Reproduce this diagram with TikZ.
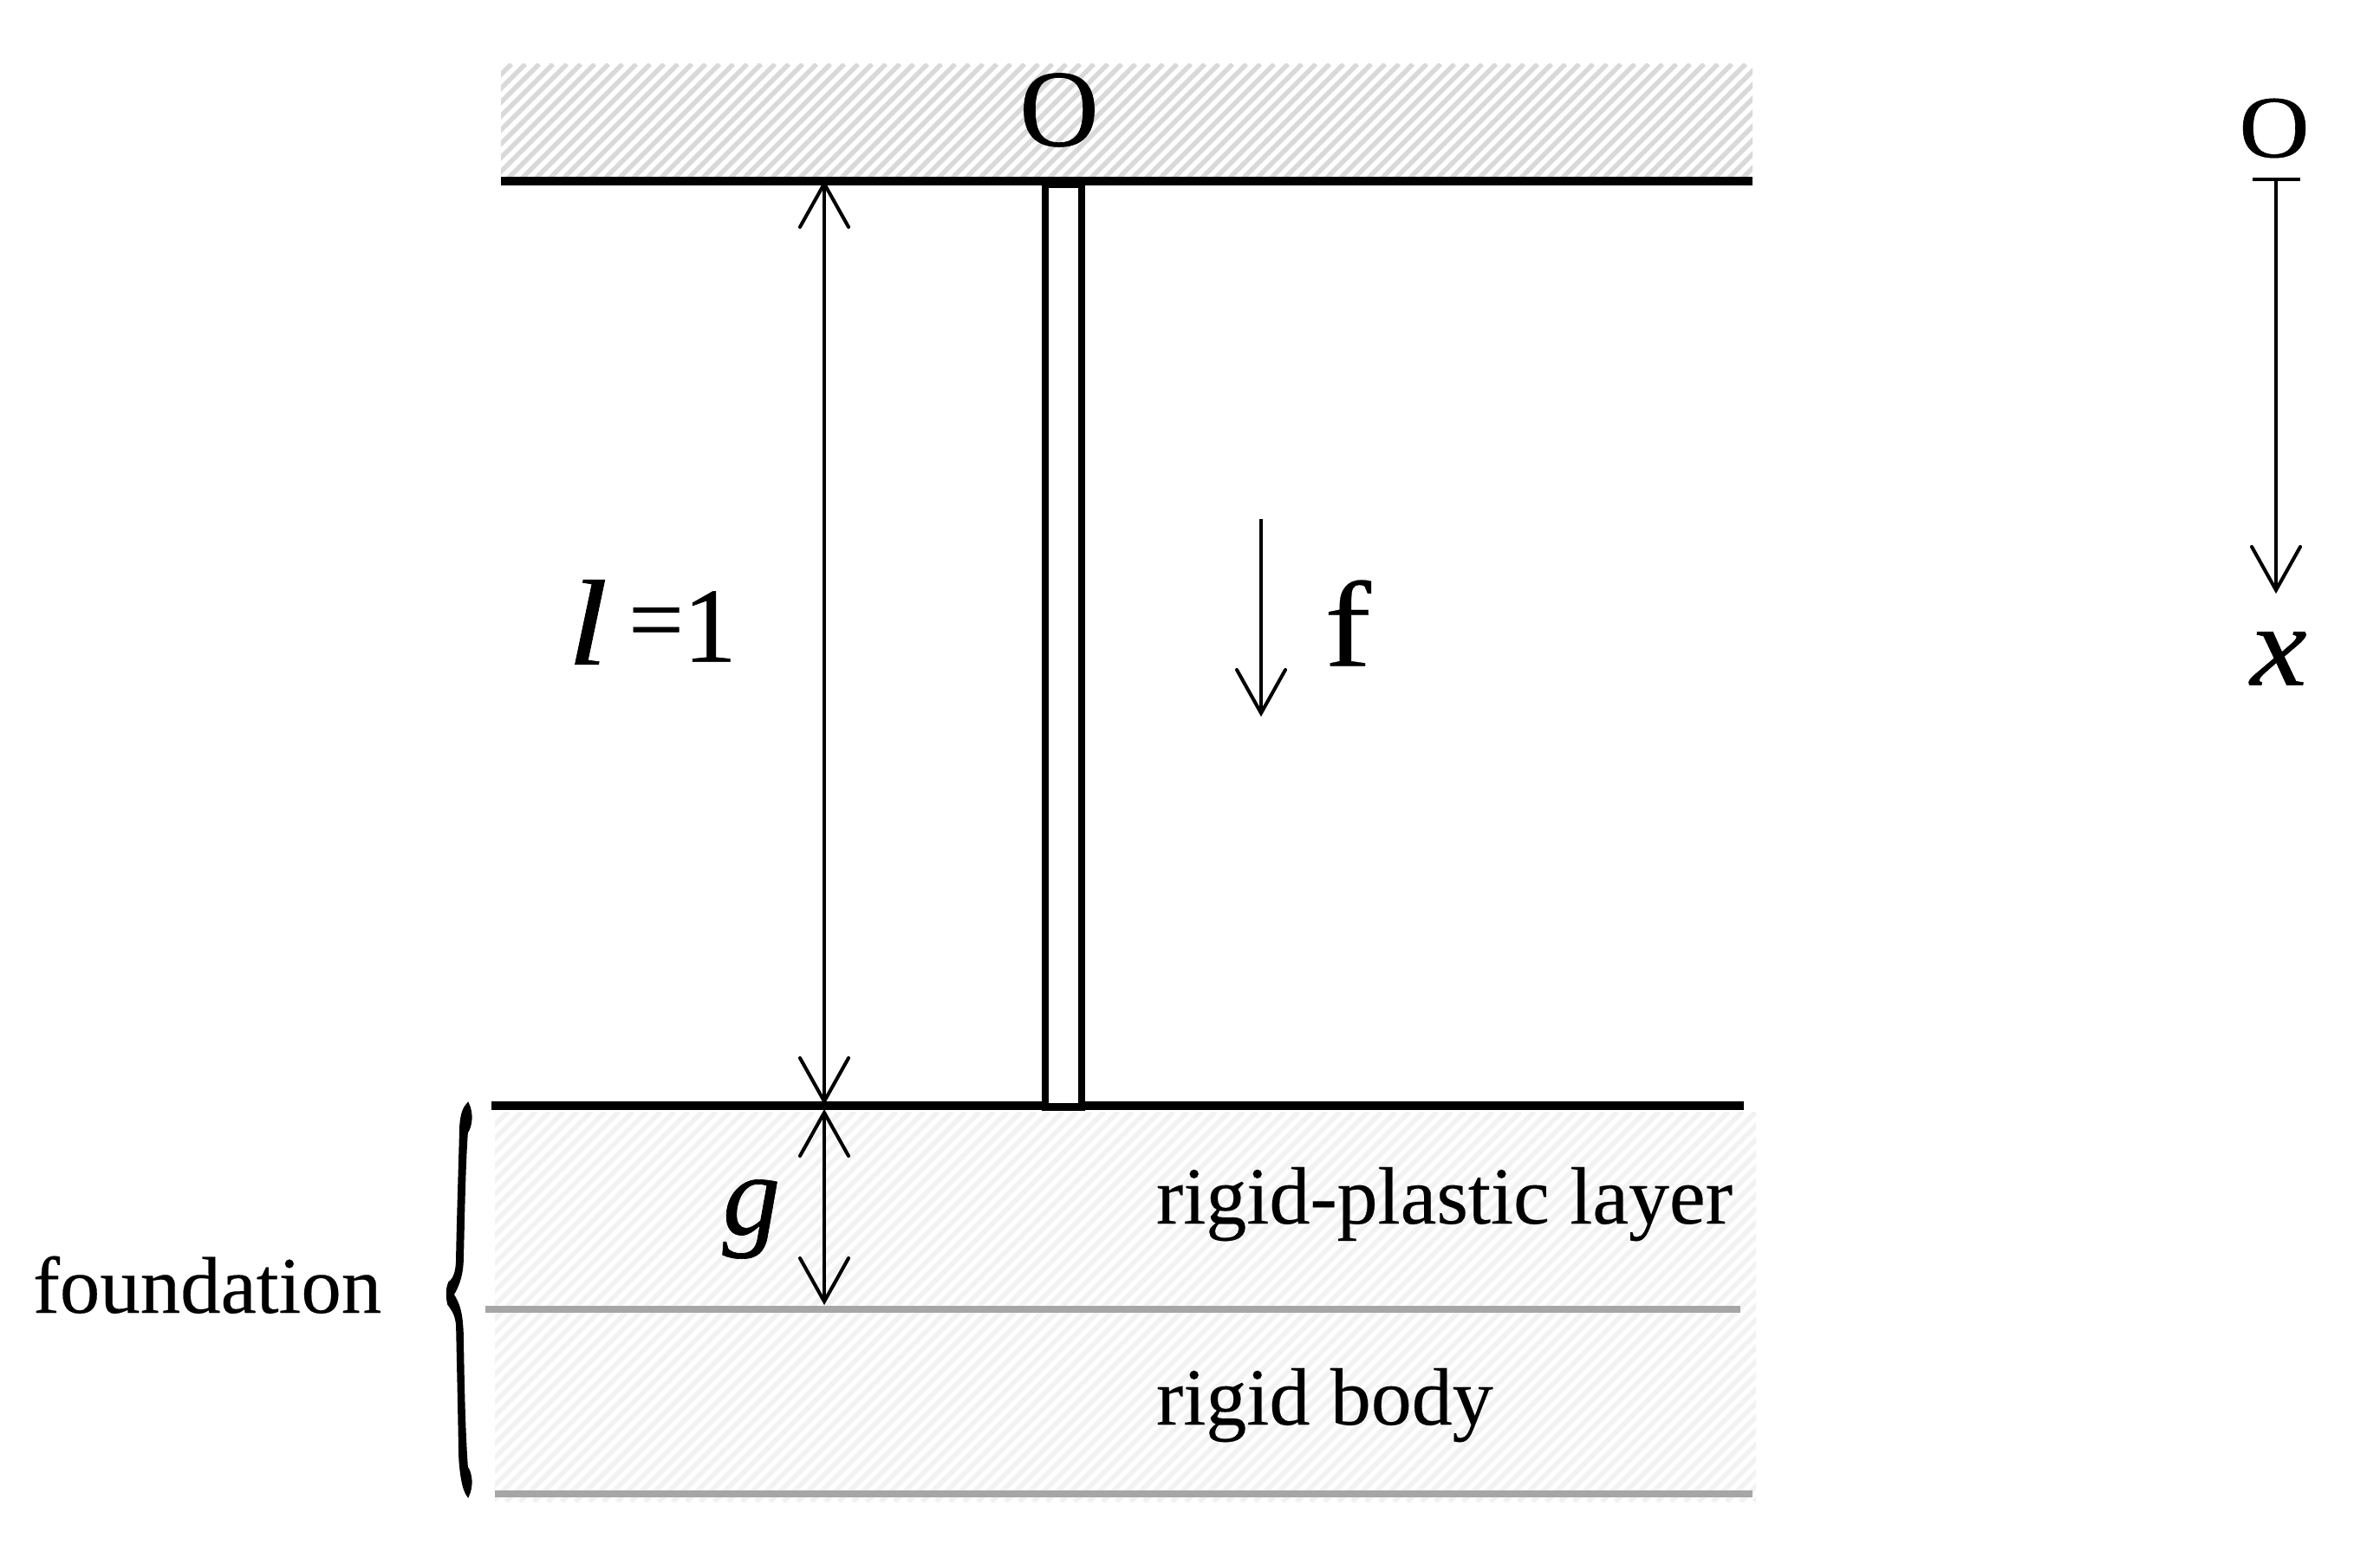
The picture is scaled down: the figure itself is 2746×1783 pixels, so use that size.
\documentclass[tikz,border=0pt]{standalone}
\usepackage{fontspec}
\setmainfont{Liberation Serif}
\newfontfamily\hv[FakeBold=0.5]{Liberation Serif}
\newfontfamily\hvtext[FakeBold=0.2]{Liberation Serif}
\usetikzlibrary{calc}
\definecolor{hatchtop}{HTML}{D9D9D9}
\definecolor{hatchlow}{HTML}{F2F2F2}
\definecolor{sepgrey}{HTML}{A6A6A6}
\newcommand{\fs}[1]{\fontsize{#1}{#1}\selectfont}
\tikzset{
  thickline/.style={line width=2.6pt,black},
  sepline/.style={line width=2.2pt,sepgrey},
  dimline/.style={line width=1.15pt,black},
  tiphead/.style={line width=1.15pt,black,line cap=round,line join=miter},
  lbl/.style={inner sep=0pt,outer sep=0pt,anchor=center}
}
\newcommand{\hatchbox}[5]{% x0 y0 x1 y1 colour
  \begin{scope}
    \clip (#1,#2) rectangle (#3,#4);
    \foreach \k in {-200,-184,...,3000}{
      \draw[#5,line width=1.6pt] (\k,#4) -- (\k+#4-#2,#2);
    }
  \end{scope}
}
\newcommand{\vhead}[2]{% tip, direction sign
  \draw[tiphead] ($(#1)+(-28,#2*50)$) -- (#1) -- ($(#1)+(28,#2*50)$);
}
\begin{document}
\begin{tikzpicture}[x=0.01cm,y=-0.01cm]
\useasboundingbox (0,0) rectangle (2746,1783);
\fill[white] (0,0) rectangle (2746,1783);
\hatchbox{578}{74}{2022}{208}{hatchtop}
\hatchbox{571}{1283}{2026}{1733}{hatchlow}

\coordinate (tl) at (578,209); \coordinate (tr) at (2022,209);
\coordinate (bl) at (567,1276); \coordinate (br) at (2012,1276);
\coordinate (s1l) at (560,1511); \coordinate (s1r) at (2008,1511);
\coordinate (s2l) at (571,1724); \coordinate (s2r) at (2022,1724);
\draw[sepline] (s1l) -- (s1r);
\draw[sepline] (s2l) -- (s2r);
\draw[thickline] (tl) -- (tr);
\draw[thickline] (bl) -- (br);
% bar
\node[draw=black,line width=2.5pt,fill=white,minimum width=0.42cm,minimum height=10.65cm,inner sep=0pt,outer sep=0pt] (bar) at (1227,745) {};

% dimension arrows
\coordinate (la) at (951,212); \coordinate (lb) at (951,1271);
\draw[dimline] (la) -- (lb);
\vhead{la}{1}\vhead{lb}{-1}
\coordinate (ga) at (951,1284); \coordinate (gb) at (951,1502);
\draw[dimline] (ga) -- (gb);
\vhead{ga}{1}\vhead{gb}{-1}
\coordinate (fa) at (1455,599); \coordinate (fb) at (1455,823);
\draw[dimline] (fa) -- (fb);
\vhead{fb}{-1}
\coordinate (xa) at (2626,208); \coordinate (xb) at (2626,681);
\coordinate (xtl) at (2599,207); \coordinate (xtr) at (2654,207);
\draw[dimline] (xa) -- (xb);
\draw[dimline] (xtl) -- (xtr);
\vhead{xb}{-1}

% brace
\filldraw[black,line width=0.5pt] (540,1273) .. controls (546,1285) and (544,1300) .. (539,1307)
  .. controls (536,1350) and (535,1420) .. (534,1455)
  .. controls (533,1475) and (528,1485) .. (523,1494)
  .. controls (530,1505) and (533,1515) .. (534,1540)
  .. controls (535,1600) and (536,1650) .. (539,1693)
  .. controls (544,1700) and (546,1715) .. (540,1727)
  .. controls (534,1720) and (531,1700) .. (530,1680)
  .. controls (529,1620) and (528,1580) .. (527,1530)
  .. controls (526,1515) and (520,1510) .. (517,1505)
  .. controls (515,1495) and (515,1488) .. (518,1480)
  .. controls (525,1475) and (527,1465) .. (527,1450)
  .. controls (528,1400) and (530,1340) .. (531,1300)
  .. controls (532,1285) and (535,1278) .. (540,1273) -- cycle;

% text
\node[lbl] (o1) at (1222,127) {\hv\fs{36pt}O};
\node[lbl] (o2) at (2624,148) {\hv\fs{29pt}\scalebox{1.1}[1]{O}};
\node[lbl] (xlab) at (2629,760) {\hv\fs{38pt}\scalebox{1.1}[1]{\itshape x}};
\node[lbl] (l1) at (678,718) {\hv\fs{40pt}\scalebox{1.2}[1]{\itshape l}};
\node[lbl] (l2) at (757,727) {\hv\fs{32pt}=};
\node[lbl] (l3) at (819,723) {\hv\fs{35pt}1};
\node[lbl] (flab) at (1555,719) {\hvtext\fs{40pt}\scalebox{1.15}[1]{f}};
\node[lbl] (glab) at (867,1407) {\hv\fs{38pt}\itshape g};
\node[lbl,anchor=base west] (t1) at (1334,1412) {\hvtext\fs{26.7pt}rigid-plastic layer};
\node[lbl,anchor=base west] (t2) at (1334,1644) {\hvtext\fs{26.7pt}rigid body};
\node[lbl,anchor=base west] (t3) at (38,1515) {\hvtext\fs{26.4pt}foundation};
\end{tikzpicture}
\end{document}
